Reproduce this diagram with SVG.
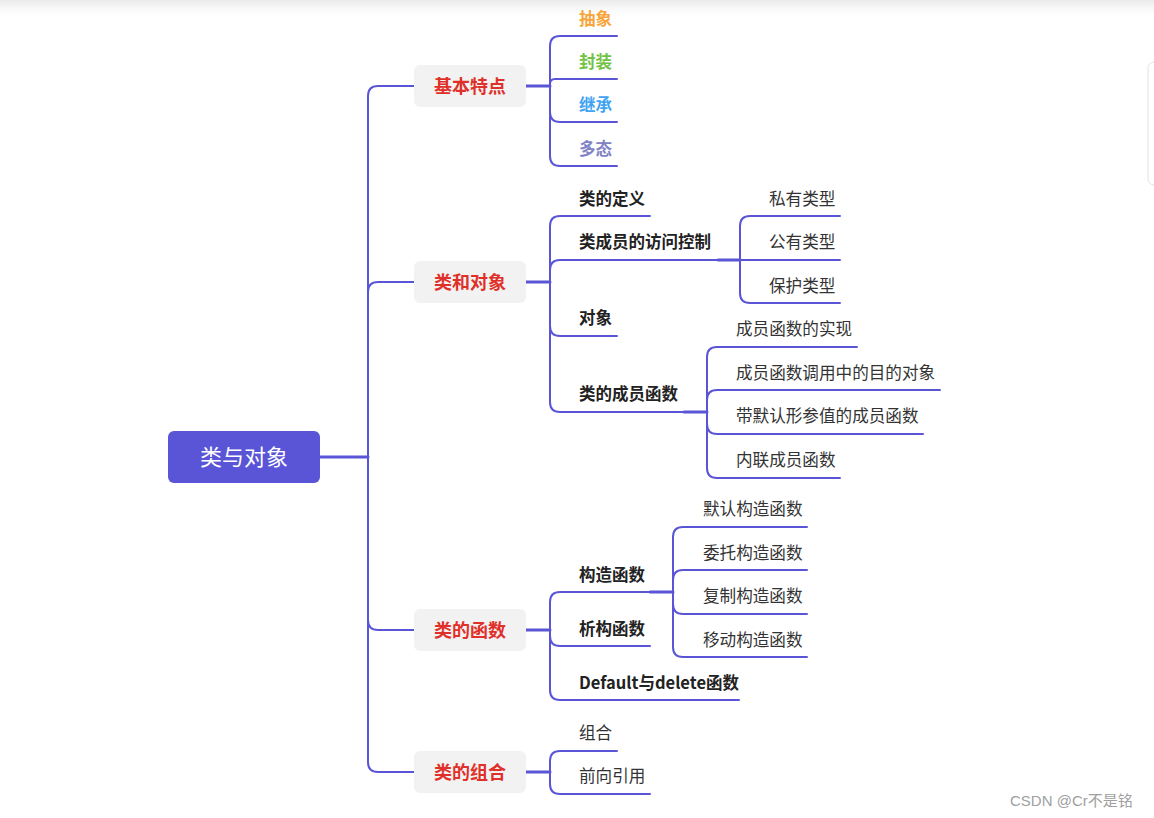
<svg xmlns="http://www.w3.org/2000/svg" width="1154" height="818" viewBox="0 0 1154 818">
<defs>
<linearGradient id="topShade" x1="0" y1="0" x2="0" y2="1">
<stop offset="0" stop-color="#e9e9e9"/>
<stop offset="1" stop-color="#ffffff" stop-opacity="0"/>
</linearGradient>
<style>
text{font-family:"Noto Sans CJK SC","Noto Sans",sans-serif;dominant-baseline:central}
.root{fill:#5a55d6}
.rootT{fill:#ffffff;font-size:22px;text-anchor:middle}
.l1{fill:#f2f2f2}
.l1T{fill:#e0302a;font-size:18px;font-weight:bold;text-anchor:middle}
.l2T{fill:#222222;font-size:16.5px;font-weight:bold}
.leafT{fill:#333333;font-size:16.6px}
.conn path{fill:none;stroke:#5a55d6;stroke-width:2;stroke-linecap:round}
.conn .thick{stroke-width:3}
</style>
</defs>
<rect width="1154" height="818" fill="#ffffff"/>
<rect width="1154" height="20" fill="url(#topShade)"/>
<rect x="1148" y="62" width="20" height="123" rx="6" fill="#ffffff" stroke="#e2e2e2"/>

<g id="connectors" class="conn">
<path class="thick" d="M320 457 H368"/>
<path d="M368 457 V96 Q368 86 378 86 H414"/>
<path d="M368 457 V292 Q368 282 378 282 H414"/>
<path d="M368 457 V620 Q368 630 378 630 H414"/>
<path d="M368 457 V762 Q368 772 378 772 H414"/>

<path class="thick" d="M526 86 H550"/>
<path d="M550 86 V46 Q550 36 560 36 H617"/>
<path d="M550 86 V84 Q550 79 555 79 H617"/>
<path d="M550 86 V112 Q550 122 560 122 H617"/>
<path d="M550 86 V156 Q550 166 560 166 H617"/>

<path class="thick" d="M526 282 H550"/>
<path d="M550 282 V226 Q550 216 560 216 H650"/>
<path d="M550 282 V270 Q550 260 560 260 H740"/>
<path d="M550 282 V326 Q550 336 560 336 H617"/>
<path d="M550 282 V402 Q550 412 560 412 H707"/>
<path class="thick" d="M718 260 H740"/>
<path d="M740 260 V226 Q740 216 750 216 H840"/>
<path d="M740 260 H840"/>
<path d="M740 260 V293 Q740 303 750 303 H840"/>
<path class="thick" d="M684 412 H707"/>
<path d="M707 412 V357 Q707 347 717 347 H857"/>
<path d="M707 412 V400 Q707 390 717 390 H940"/>
<path d="M707 412 V424 Q707 434 717 434 H923"/>
<path d="M707 412 V468 Q707 478 717 478 H840"/>

<path class="thick" d="M526 630 H550"/>
<path d="M550 630 V602 Q550 592 560 592 H673"/>
<path d="M550 630 V636 Q550 646 560 646 H650"/>
<path d="M550 630 V690 Q550 700 560 700 H739"/>
<path class="thick" d="M650 592 H673"/>
<path d="M673 592 V537 Q673 527 683 527 H807"/>
<path d="M673 592 V580 Q673 570 683 570 H807"/>
<path d="M673 592 V604 Q673 614 683 614 H807"/>
<path d="M673 592 V647 Q673 657 683 657 H807"/>

<path class="thick" d="M526 772 H550"/>
<path d="M550 772 V761 Q550 751 560 751 H617"/>
<path d="M550 772 V784 Q550 794 560 794 H650"/>
</g>

<g id="root"><rect class="root" x="168" y="431" width="152" height="52" rx="6"/><text class="rootT" x="244" y="455">类与对象</text></g>

<g id="n-jbtd"><rect class="l1" x="414" y="65" width="112" height="42" rx="6"/><text class="l1T" x="470" y="85">基本特点</text></g>
<g id="n-lhdx"><rect class="l1" x="414" y="261" width="112" height="42" rx="6"/><text class="l1T" x="470" y="281">类和对象</text></g>
<g id="n-ldhs"><rect class="l1" x="414" y="609" width="112" height="42" rx="6"/><text class="l1T" x="470" y="629">类的函数</text></g>
<g id="n-ldzh"><rect class="l1" x="414" y="751" width="112" height="42" rx="6"/><text class="l1T" x="470" y="771">类的组合</text></g>

<g id="n-cx"><text class="l2T" x="579" y="18" style="fill:#f7a53b">抽象</text></g>
<g id="n-fz"><text class="l2T" x="579" y="61" style="fill:#72c243">封装</text></g>
<g id="n-jc"><text class="l2T" x="579" y="104" style="fill:#3fa3f2">继承</text></g>
<g id="n-dt"><text class="l2T" x="579" y="148" style="fill:#7f82c6">多态</text></g>

<g id="n-lddy"><text class="l2T" x="579" y="198">类的定义</text></g>
<g id="n-fwkz"><text class="l2T" x="579" y="241">类成员的访问控制</text></g>
<g id="n-dx"><text class="l2T" x="579" y="317">对象</text></g>
<g id="n-cyhs"><text class="l2T" x="579" y="393">类的成员函数</text></g>

<g id="n-sylx"><text class="leafT" x="769" y="198">私有类型</text></g>
<g id="n-gylx"><text class="leafT" x="769" y="241">公有类型</text></g>
<g id="n-bhlx"><text class="leafT" x="769" y="285">保护类型</text></g>

<g id="n-sx"><text class="leafT" x="736" y="328">成员函数的实现</text></g>
<g id="n-mddx"><text class="leafT" x="736" y="372">成员函数调用中的目的对象</text></g>
<g id="n-mrxc"><text class="leafT" x="736" y="415">带默认形参值的成员函数</text></g>
<g id="n-nl"><text class="leafT" x="736" y="459">内联成员函数</text></g>

<g id="n-gzhs"><text class="l2T" x="579" y="574">构造函数</text></g>
<g id="n-xghs"><text class="l2T" x="579" y="628">析构函数</text></g>
<g id="n-dd"><text class="l2T" x="579" y="682">Default与delete函数</text></g>

<g id="n-mrgz"><text class="leafT" x="703" y="508">默认构造函数</text></g>
<g id="n-wtgz"><text class="leafT" x="703" y="552">委托构造函数</text></g>
<g id="n-fzgz"><text class="leafT" x="703" y="595">复制构造函数</text></g>
<g id="n-ydgz"><text class="leafT" x="703" y="639">移动构造函数</text></g>

<g id="n-zh"><text class="leafT" x="579" y="732">组合</text></g>
<g id="n-qxyy"><text class="leafT" x="579" y="775">前向引用</text></g>

<text x="1010" y="800" style="fill:#a0a0a0;font-size:15px;font-family:'Liberation Sans','Noto Sans CJK SC',sans-serif">CSDN @Cr不是铭</text>
</svg>
